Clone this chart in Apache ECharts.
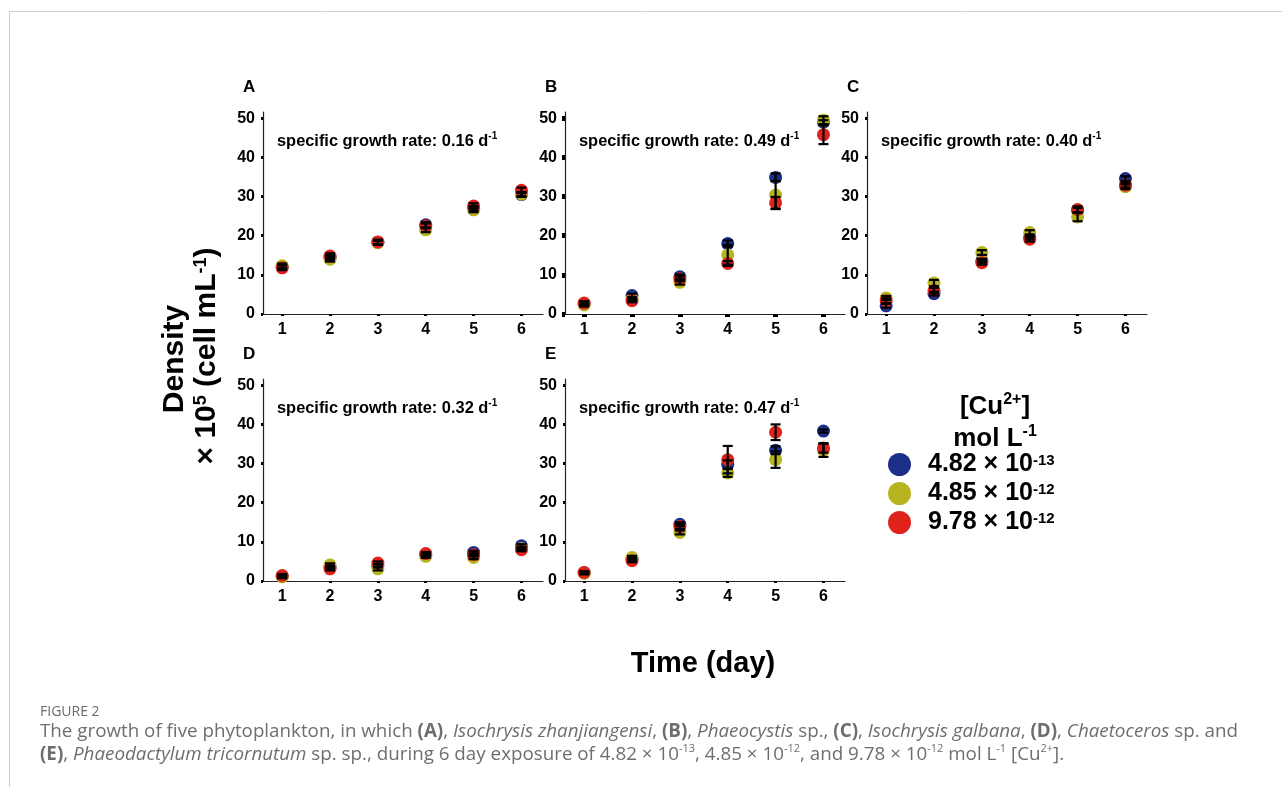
<!DOCTYPE html>
<html>
<head>
<meta charset="utf-8">
<script src="https://cdn.jsdelivr.net/npm/echarts@6/dist/echarts.min.js"></script>
<style>
    html, body { margin: 0; padding: 0; background: #fff; }
    #main { width: 1282px; height: 787px; }
</style>
</head>
<body>
<div id="main"></div>
<script>
    // x axis: day of exposure, y axis ticks: density x 10^5 cell/mL
    var days = [1, 2, 3, 4, 5, 6];
    var yTicks = [0, 10, 20, 30, 40, 50];
    var concNames = ['4.82 × 10-13', '4.85 × 10-12', '9.78 × 10-12'];
    var panelLetters = ['A', 'B', 'C', 'D', 'E'];
    var growthRates = ['0.16', '0.49', '0.40', '0.32', '0.47'];

    // A - Isochrysis zhanjiangensi
    var aBlue = [12.0, 14.5, 18.3, 22.8, 27.0, 30.5];
    var aYellow = [12.3, 14.0, 18.2, 21.5, 26.6, 30.6];
    var aRed = [11.8, 14.8, 18.4, 22.5, 27.6, 31.6];
    var aBlueSd = [0.6, 0.6, 0.6, 0.7, 0.6, 0.6];
    var aYellowSd = [0.6, 0.6, 0.5, 0.6, 0.6, 0.5];
    var aRedSd = [0.6, 0.7, 0.6, 0.6, 0.7, 0.7];

    // B - Phaeocystis sp.
    var bBlue = [2.6, 4.7, 9.5, 18.0, 34.9, 49.0];
    var bYellow = [2.3, 3.8, 8.1, 15.1, 30.4, 49.5];
    var bRed = [2.8, 3.4, 9.0, 12.9, 28.4, 45.8];
    var bBlueSd = [0.5, 0.5, 0.6, 0.8, 1.0, 0.5];
    var bYellowSd = [0.4, 0.5, 0.6, 2.5, 3.6, 1.0];
    var bRedSd = [0.5, 0.4, 0.6, 0.6, 1.5, 2.4];

    // C - Isochrysis galbana
    var cBlue = [2.1, 5.2, 13.6, 19.7, 26.5, 34.6];
    var cYellow = [4.1, 7.9, 15.7, 20.8, 24.8, 32.5];
    var cRed = [3.4, 6.0, 13.1, 19.1, 26.7, 32.9];
    var cBlueSd = [0.5, 0.5, 0.5, 0.6, 0.6, 0.6];
    var cYellowSd = [0.5, 0.8, 0.6, 0.6, 1.1, 0.6];
    var cRedSd = [0.6, 0.7, 0.5, 0.6, 0.8, 0.6];

    // D - Chaetoceros sp.
    var dBlue = [1.2, 3.5, 3.9, 6.7, 7.3, 9.0];
    var dYellow = [1.1, 4.1, 3.1, 6.3, 6.0, 8.3];
    var dRed = [1.4, 3.1, 4.6, 7.0, 6.7, 8.0];
    var dBlueSd = [0.4, 0.4, 0.4, 0.4, 0.4, 0.4];
    var dYellowSd = [0.4, 0.4, 0.4, 0.4, 0.4, 0.4];
    var dRedSd = [0.4, 0.4, 0.4, 0.4, 0.4, 0.4];

    // E - Phaeodactylum tricornutum
    var eBlue = [2.1, 5.6, 14.5, 29.8, 33.4, 38.3];
    var eYellow = [2.0, 6.0, 12.4, 27.6, 31.0, 33.4];
    var eRed = [2.2, 5.2, 13.9, 31.0, 38.0, 34.0];
    var eBlueSd = [0.3, 0.4, 0.5, 1.0, 1.0, 0.4];
    var eYellowSd = [0.3, 0.4, 0.5, 1.0, 2.1, 1.7];
    var eRedSd = [0.3, 0.4, 0.6, 3.5, 2.0, 1.2];

    var panels = [
        [[aBlue, aBlueSd], [aYellow, aYellowSd], [aRed, aRedSd]],
        [[bBlue, bBlueSd], [bYellow, bYellowSd], [bRed, bRedSd]],
        [[cBlue, cBlueSd], [cYellow, cYellowSd], [cRed, cRedSd]],
        [[dBlue, dBlueSd], [dYellow, dYellowSd], [dRed, dRedSd]],
        [[eBlue, eBlueSd], [eYellow, eYellowSd], [eRed, eRedSd]]
    ];

    var colors = ['#1b2f88', '#b6b41f', '#e0221c'];
    var FONT = '"Liberation Sans", Arial, sans-serif';
    var CAPFONT = '"Open Sans", sans-serif';
    var gridLefts = [263, 565, 867, 263, 565];
    var gridTops = [112, 112, 112, 379, 379];

    // superscript style: small box at the top of the line lifts the glyphs
    function sup(size) {
        return { fontSize: size, fontWeight: 'bold', fontFamily: FONT, color: '#000', verticalAlign: 'top', lineHeight: Math.round(size * 0.7) };
    }

    function errorBar(params, api) {
        var x = api.value(0);
        var lo = api.coord([x, api.value(1)]);
        var hi = api.coord([x, api.value(2)]);
        var w = 5;
        var st = { stroke: '#000', lineWidth: 2.2 };
        return {
            type: 'group',
            children: [
                { type: 'line', shape: { x1: lo[0], y1: lo[1], x2: hi[0], y2: hi[1] }, style: st },
                { type: 'line', shape: { x1: lo[0] - w, y1: lo[1], x2: lo[0] + w, y2: lo[1] }, style: st },
                { type: 'line', shape: { x1: hi[0] - w, y1: hi[1], x2: hi[0] + w, y2: hi[1] }, style: st }
            ]
        };
    }

    var grids = [], xAxes = [], yAxes = [], series = [], titles = [];

    panels.forEach(function (panel, p) {
        var big = p === 1;
        grids.push({ left: gridLefts[p], top: gridTops[p], width: 280, height: 202 });
        xAxes.push({
            gridIndex: p, type: 'value', min: 0.6, max: 6.45,
            axisLine: { show: true, lineStyle: { color: '#222', width: 1.2 } },
            axisTick: { show: true, customValues: days, length: big ? 3 : 2, lineStyle: { color: '#000', width: big ? 5 : 3 } },
            axisLabel: { customValues: days, margin: 8, fontSize: 16, fontWeight: 'bold', color: '#000', fontFamily: FONT },
            splitLine: { show: false }
        });
        yAxes.push({
            gridIndex: p, type: 'value', min: 0, max: 51.6,
            axisLine: { show: true, lineStyle: { color: '#222', width: 1.2 } },
            axisTick: { show: true, customValues: yTicks, length: big ? 3 : 2, lineStyle: { color: '#000', width: big ? 5 : 3 } },
            axisLabel: { customValues: yTicks, margin: 8, fontSize: 16, fontWeight: 'bold', color: '#000', fontFamily: FONT },
            splitLine: { show: false }
        });

        panel.forEach(function (s, c) {
            series.push({
                name: concNames[c], type: 'scatter', xAxisIndex: p, yAxisIndex: p,
                symbolSize: 13, z: 2 + c,
                itemStyle: { color: colors[c], opacity: 1 },
                data: days.map(function (d, i) { return [d, s[0][i]]; })
            });
        });
        panel.forEach(function (s) {
            series.push({
                type: 'custom', xAxisIndex: p, yAxisIndex: p, z: 10, silent: true,
                renderItem: errorBar,
                encode: { x: 0, y: [1, 2] },
                data: days.map(function (d, i) { return [d, s[0][i] - s[1][i], s[0][i] + s[1][i]]; })
            });
        });

        titles.push({
            text: panelLetters[p], left: gridLefts[p] - 20, top: gridTops[p] - 34, padding: 0,
            textStyle: { fontSize: 17, fontWeight: 'bold', color: '#000', fontFamily: FONT, lineHeight: 18 }
        });
        titles.push({
            text: 'specific growth rate: ' + growthRates[p] + ' d{sup|-1}',
            left: gridLefts[p] + 14, top: gridTops[p] + 19, padding: 0,
            textStyle: { fontSize: 16.4, fontWeight: 'bold', color: '#000', fontFamily: FONT, lineHeight: 20, rich: { sup: sup(10) } }
        });
    });

    titles.push({
        text: 'Time (day)', left: 703, top: 649, textAlign: 'center', padding: 0,
        textStyle: { fontSize: 29, fontWeight: 'bold', color: '#000', fontFamily: FONT, lineHeight: 30 }
    });
    titles.push({
        text: '[Cu{sup|2+}]', left: 995, top: 392, textAlign: 'center', padding: 0,
        textStyle: { fontSize: 26, fontWeight: 'bold', color: '#000', fontFamily: FONT, lineHeight: 30, rich: { sup: sup(16) } }
    });
    titles.push({
        text: 'mol L{sup|-1}', left: 995, top: 424, textAlign: 'center', padding: 0,
        textStyle: { fontSize: 26, fontWeight: 'bold', color: '#000', fontFamily: FONT, lineHeight: 30, rich: { sup: sup(16) } }
    });
    titles.push({
        text: 'FIGURE 2', left: 40, top: 705, padding: 0,
        textStyle: { fontSize: 14, fontWeight: 'normal', color: '#6b6b6b', fontFamily: CAPFONT, lineHeight: 15 }
    });

    var capBase = { fontSize: 18.8, color: '#6e6e6e', fontFamily: CAPFONT, lineHeight: 23 };
    titles.push({
        text: 'The growth of five phytoplankton, in which {b|(A)}, {i|Isochrysis zhanjiangensi}, {b|(B)}, {i|Phaeocystis} sp., {b|(C)}, {i|Isochrysis galbana}, {b|(D)}, {i|Chaetoceros} sp. and\n' +
              '{b|(E)}, {i|Phaeodactylum tricornutum} sp. sp., during 6 day exposure of 4.82 × 10{s|-13}, 4.85 × 10{s|-12}, and 9.78 × 10{s|-12} mol L{s|-1} [Cu{s|2+}].',
        left: 40, top: 720, padding: 0,
        textStyle: Object.assign({ fontWeight: 'normal' }, capBase, {
            rich: {
                b: Object.assign({ fontWeight: 'bold' }, capBase),
                i: Object.assign({ fontStyle: 'italic' }, capBase),
                s: { fontSize: 11, color: '#6e6e6e', fontFamily: CAPFONT, verticalAlign: 'top', lineHeight: 12 }
            }
        })
    });

    var myChart = echarts.init(document.getElementById('main'), null, { renderer: 'canvas' });
    myChart.setOption({
        animation: false,
        backgroundColor: '#fff',
        title: titles,
        legend: {
            data: concNames, orient: 'vertical', left: 888, top: 452, padding: 0,
            itemWidth: 23, itemHeight: 23, itemGap: 4, icon: 'circle', selectedMode: false,
            formatter: function (name) {
                var parts = name.split(' × 10');
                return parts[0] + ' × 10{sup|' + parts[1] + '}';
            },
            textStyle: {
                fontSize: 25, fontWeight: 'bold', color: '#000', fontFamily: FONT, lineHeight: 23,
                padding: [0, 0, 0, 12], rich: { sup: sup(15) }
            }
        },
        grid: grids,
        xAxis: xAxes,
        yAxis: yAxes,
        series: series,
        graphic: [
            { type: 'line', shape: { x1: 9.5, y1: 11.5, x2: 1282, y2: 11.5 }, style: { stroke: '#cfcfcf', lineWidth: 1 } },
            { type: 'line', shape: { x1: 9.5, y1: 11.5, x2: 9.5, y2: 787 }, style: { stroke: '#cfcfcf', lineWidth: 1 } },
            {
                type: 'text', x: 175, y: 359, rotation: Math.PI / 2,
                style: { text: 'Density', fontSize: 30, fontWeight: 'bold', fontFamily: FONT, fill: '#000',
                         align: 'center', verticalAlign: 'middle', textAlign: 'center', textVerticalAlign: 'middle' }
            },
            {
                type: 'text', x: 207, y: 356, rotation: Math.PI / 2,
                style: {
                    text: '× 10{sup|5} (cell mL{sup|-1})', fontSize: 30, fontWeight: 'bold', fontFamily: FONT, fill: '#000',
                    align: 'center', verticalAlign: 'middle', textAlign: 'center', textVerticalAlign: 'middle',
                    rich: { sup: { fontSize: 18, fontWeight: 'bold', fontFamily: FONT, fill: '#000', verticalAlign: 'top', lineHeight: 13 } }
                }
            }
        ]
    });
</script>
</body>
</html>
